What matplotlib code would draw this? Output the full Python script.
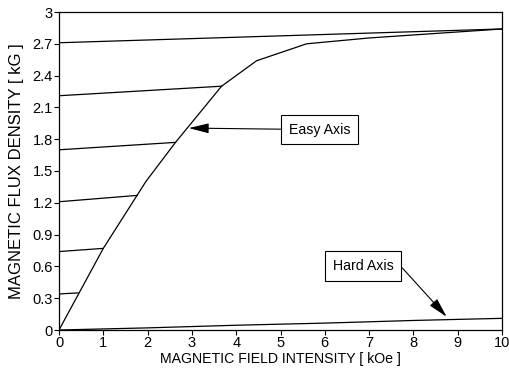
import matplotlib
matplotlib.use("Agg")
import matplotlib.pyplot as plt

plt.rcParams['font.family'] = ['Liberation Sans', 'DejaVu Sans']

# Easy axis magnetization curve (H in kOe, B in kG)
easy_h = [0, 1.0, 1.96, 2.63, 3.67, 4.46, 5.59, 7.0, 10.0]
easy_b = [0, 0.77, 1.40, 1.77, 2.30, 2.54, 2.70, 2.755, 2.84]

# Shear lines: start at H=0, end on the curve
shear_start_b = [0.34, 0.74, 1.21, 1.70, 2.21, 2.71]
shear_end_h = [0.43, 1.0, 1.77, 2.63, 3.67, 10.0]
shear_end_b = [0.35, 0.77, 1.27, 1.77, 2.30, 2.84]

# Hard axis curve
hard_h = [0, 2, 4, 6, 8, 10]
hard_b = [0, 0.02, 0.045, 0.065, 0.09, 0.11]

x_ticks = list(range(0, 11))
y_ticks = [0, 0.3, 0.6, 0.9, 1.2, 1.5, 1.8, 2.1, 2.4, 2.7, 3]
y_tick_labels = ["0", "0.3", "0.6", "0.9", "1.2", "1.5", "1.8", "2.1", "2.4", "2.7", "3"]

fig = plt.figure(figsize=(5.09, 3.70), dpi=100)
ax = fig.add_axes([59/509, 1 - 330/370, (502 - 59)/509, (330 - 12)/370])

lw = 0.9
ax.plot(easy_h, easy_b, color='black', lw=lw)
for b0, h1, b1 in zip(shear_start_b, shear_end_h, shear_end_b):
    ax.plot([0, h1], [b0, b1], color='black', lw=lw)
ax.plot(hard_h, hard_b, color='black', lw=lw)

ax.set_xlim(0, 10)
ax.set_ylim(0, 3)
ax.set_xticks(x_ticks)
ax.set_xticklabels([str(v) for v in x_ticks])
ax.set_yticks(y_ticks)
ax.set_yticklabels(y_tick_labels)
ax.tick_params(direction='out', length=3.5, width=0.8, labelsize=10.5, pad=1)
for s in ax.spines.values():
    s.set_linewidth(0.9)

ax.set_xlabel("MAGNETIC FIELD INTENSITY [ kOe ]", fontsize=10.2, labelpad=1)
ax.set_ylabel("MAGNETIC FLUX DENSITY [ kG ]", fontsize=12, labelpad=6)

box = dict(boxstyle='square,pad=0.55', fc='white', ec='black', lw=0.8)
arrow = dict(arrowstyle='-|>,head_length=1.2,head_width=0.3', color='black',
             lw=0.8, shrinkA=0, shrinkB=0)

ax.annotate("Easy Axis", xy=(2.93, 1.905), xytext=(5.88, 1.89),
            fontsize=10.2, ha='center', va='center', bbox=box,
            arrowprops=arrow)

ax.text(6.86, 0.604, "Hard Axis", fontsize=10.2, ha='center', va='center', bbox=box)
ax.annotate("", xy=(8.75, 0.125), xytext=(7.75, 0.585), arrowprops=arrow)

fig.savefig("out.png", dpi=100)
